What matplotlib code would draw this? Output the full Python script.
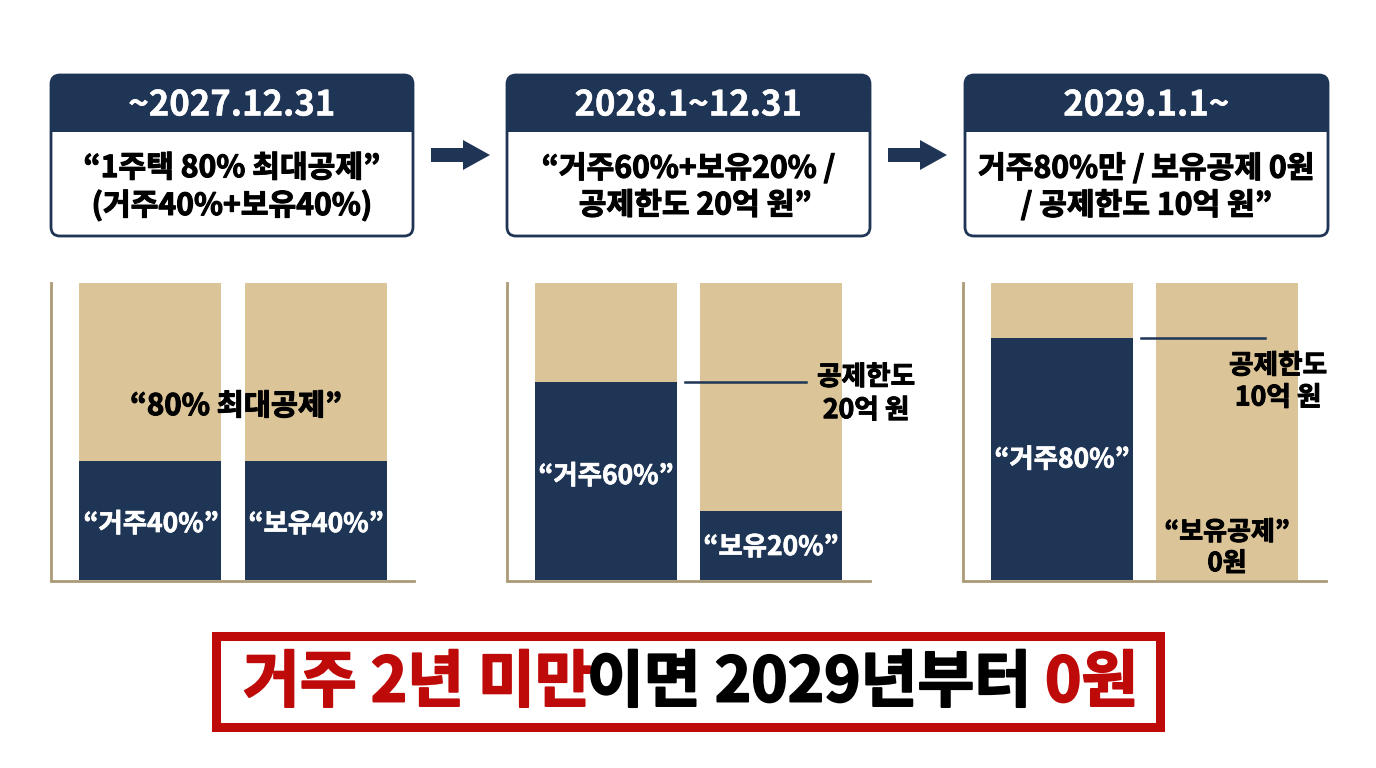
import matplotlib
matplotlib.use("Agg")
import matplotlib.pyplot as plt
import matplotlib.patheffects as pe
from matplotlib.patches import FancyBboxPatch, Rectangle, Polygon

plt.rcParams['font.family'] = ['Noto Sans CJK KR', 'DejaVu Sans']

NAVY = '#1f3555'
TAN = '#dbc598'
AXIS = '#ab9a78'
RED = '#bf0a0a'

W, H = 1376, 768
categories = ['거주', '보유']
panel1_lower = [40, 40]
panel2_lower = [66.7, 23.1]
panel3_lower = [81.5, 0]
total = [100, 100]
headers = ['~2027.12.31', '2028.1~12.31', '2029.1.1~']
bodies = ['“1주택 80% 최대공제”\n(거주40%+보유40%)',
          '“거주60%+보유20% /\n  공제한도 20억 원”',
          '거주80%만 / 보유공제 0원\n/ 공제한도 10억 원”']

fig = plt.figure(figsize=(W / 100, H / 100), dpi=100, facecolor='white')

def px_axes(x0, x1, ytop, ybot, **kw):
    return fig.add_axes([x0 / W, 1 - ybot / H, (x1 - x0) / W, (ybot - ytop) / H], **kw)

# bar panels: axis left, axis right, centre of first bar
panel_x = [(51, 414, 150.3), (506.7, 870, 605.8), (963.3, 1326, 1062.2)]
lowers = [panel1_lower, panel2_lower, panel3_lower]
SPACING = 165.2
for (x0, x1, c0), low in zip(panel_x, lowers):
    ax = px_axes(x0, x1, 282.7, 580, facecolor='none')
    pos = [0, 1]
    ax.bar(pos, total, width=142 / SPACING, color=TAN, linewidth=0)
    ax.bar(pos, low, width=142 / SPACING, color=NAVY, linewidth=0)
    ax.set_xlim((x0 - c0) / SPACING, (x1 - c0) / SPACING)
    ax.set_ylim(0, 100)
    ax.set_xticks([]); ax.set_yticks([])
    for s in ('top', 'right'):
        ax.spines[s].set_visible(False)
    for s in ('left', 'bottom'):
        ax.spines[s].set_color(AXIS)
        ax.spines[s].set_linewidth(2.0)
    ax.spines['bottom'].set_position(('outward', 0.8))

# overlay in pixel coordinates
ov = fig.add_axes([0, 0, 1, 1], facecolor='none')
ov.set_xlim(0, W); ov.set_ylim(H, 0); ov.axis('off')

def label(x, y, s, size, color='black', weight='bold', ls=1.12, stroke=0.5):
    ov.text(x, y, s, fontsize=size, color=color, fontweight=weight,
            ha='center', va='center', linespacing=ls,
            path_effects=[pe.withStroke(linewidth=stroke, foreground=color)])

# header cards
cards = [(51, 413), (507, 870), (965, 1328)]
for (x0, x1), head, body in zip(cards, headers, bodies):
    y0, y1 = 75, 236
    ov.add_patch(FancyBboxPatch((x0 + 8, y0 + 8), x1 - x0 - 16, y1 - y0 - 16,
                                boxstyle='round,pad=8,rounding_size=9',
                                fc='white', ec=NAVY, lw=2.0, mutation_aspect=1))
    ov.add_patch(FancyBboxPatch((x0 + 8, y0 + 8), x1 - x0 - 16, 30,
                                boxstyle='round,pad=8,rounding_size=9',
                                fc=NAVY, ec=NAVY, lw=1.0, mutation_aspect=1))
    ov.add_patch(Rectangle((x0, 118), x1 - x0, 14, fc=NAVY, ec='none'))
    label((x0 + x1) / 2, 105, head, 25, color='white', stroke=0.3)
    label((x0 + x1) / 2, 187, body, 21.7, ls=1.28, stroke=0.8)

# arrows between the cards
for x0 in (431, 888):
    ov.add_patch(Polygon([(x0, 148), (x0 + 32, 148), (x0 + 32, 140), (x0 + 59, 155),
                          (x0 + 32, 170), (x0 + 32, 162), (x0, 162)], fc=NAVY, ec='none'))

# chart labels
label(236, 406, '“80% 최대공제”', 21.2, stroke=0.8)
label(151, 524.5, '“거주40%”', 19, color='white')
label(316, 524.5, '“보유40%”', 19, color='white')
label(606, 476.5, '“거주60%”', 19, color='white')
label(771, 547.5, '“보유20%”', 19, color='white')
label(1062, 460, '“거주80%”', 19, color='white')
label(1227, 548, '“보유공제”\n0원', 18.7, ls=1.2, stroke=0.7)
ov.plot([685, 806], [382, 382], color=NAVY, lw=1.8)
ov.plot([1141, 1265], [338, 338], color=NAVY, lw=1.8)
label(866, 394, '공제한도\n20억 원', 19.2, ls=1.3, stroke=0.7)
label(1278, 382, '공제한도\n10억 원', 19.2, ls=1.24, stroke=0.7)

# bottom banner
ov.add_patch(Rectangle((216, 635.5), 944, 91, fc='white', ec=RED, lw=6.5))
fs = 44.5
parts = [('거주 2년 미만', RED, 243), ('이면 2029년부터', 'black', 587), ('0원', RED, 1045)]
for s, c, xa in parts:
    ov.text(xa, 683, s, fontsize=fs, color=c, fontweight='black', ha='left', va='center',
            path_effects=[pe.withStroke(linewidth=1.4, foreground=c)])

fig.savefig('out.png', dpi=100, facecolor='white')
